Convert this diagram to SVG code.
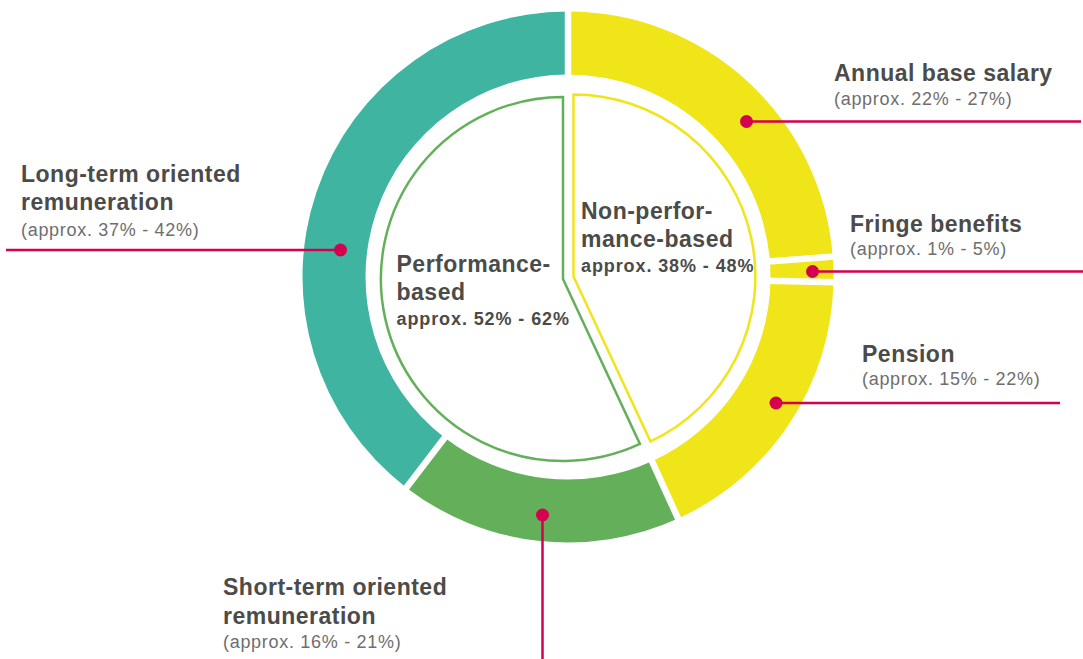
<svg xmlns="http://www.w3.org/2000/svg" width="1083" height="659" viewBox="0 0 1083 659">
<style>
.t{font-family:"Liberation Sans",Arial,sans-serif;font-weight:bold;font-size:23px;letter-spacing:0.5px;fill:#4b4b49}
.s{font-family:"Liberation Sans",Arial,sans-serif;font-size:18px;letter-spacing:0.7px;fill:#6e6e6e}
.p{font-family:"Liberation Sans",Arial,sans-serif;font-weight:bold;font-size:18px;letter-spacing:0.9px;fill:#4b4b49}
.gap{stroke:#fff;stroke-width:6.5}
.con{stroke:#d5004f;stroke-width:2.5;fill:none}
.dot{fill:#d5004f}
</style>
<rect width="1083" height="659" fill="#fff"/>
<g id="ring">
<g id="seg-annual"><path d="M568,11.5 A265.5,265.5 0 0 1 832.72,256.63 L769.90,261.46 A202.5,202.5 0 0 0 568,74.5 Z" fill="#efe518"/></g>
<g id="seg-fringe"><path d="M832.72,256.63 A265.5,265.5 0 0 1 833.45,282.10 L770.46,280.89 A202.5,202.5 0 0 0 769.90,261.46 Z" fill="#efe518"/></g>
<g id="seg-pension"><path d="M833.45,282.10 A265.5,265.5 0 0 1 678.10,518.59 L651.97,461.27 A202.5,202.5 0 0 0 770.46,280.89 Z" fill="#efe518"/></g>
<g id="seg-short"><path d="M678.10,518.59 A265.5,265.5 0 0 1 406.37,487.63 L444.73,437.65 A202.5,202.5 0 0 0 651.97,461.27 Z" fill="#64b05a"/></g>
<g id="seg-long"><path d="M406.37,487.63 A265.5,265.5 0 0 1 568,11.5 L568,74.5 A202.5,202.5 0 0 0 444.73,437.65 Z" fill="#3eb4a1"/></g>
<g id="ring-gaps">
<line class="gap" x1="568" y1="79" x2="568" y2="7"/>
<line class="gap" x1="765.42" y1="261.81" x2="837.20" y2="256.29"/>
<line class="gap" x1="765.96" y1="280.80" x2="837.95" y2="282.18"/>
<line class="gap" x1="650.11" y1="457.17" x2="679.97" y2="522.69"/>
<line class="gap" x1="447.47" y1="434.08" x2="403.63" y2="491.20"/>
</g>
</g>
<g id="pie-nonperf">
<path d="M573.5,94.5 A182,182 0 0 1 650.4,441.4 L573.5,276.5 Z" fill="none" stroke="#efe518" stroke-width="2.5" stroke-linejoin="miter"/>
<text class="t" x="581" y="218.5">Non-perfor-</text>
<text class="t" x="581" y="246.5">mance-based</text>
<text class="p" x="581" y="271.5">approx. 38% - 48%</text>
</g>
<g id="pie-perf">
<path d="M639.9,443.9 A182,182 0 1 1 563,97 L563,279 Z" fill="none" stroke="#64b05a" stroke-width="2.5" stroke-linejoin="miter"/>
<text class="t" x="396.5" y="271.5">Performance-</text>
<text class="t" x="396.5" y="300">based</text>
<text class="p" x="396.5" y="325">approx. 52% - 62%</text>
</g>
<g id="connectors">
<line class="con" x1="746.5" y1="121.5" x2="1081" y2="121.5"/>
<line class="con" x1="812.5" y1="271.5" x2="1083" y2="271.5"/>
<line class="con" x1="776" y1="403" x2="1060" y2="403"/>
<line class="con" x1="6" y1="250" x2="340.5" y2="250"/>
<line class="con" x1="542.5" y1="515" x2="542.5" y2="659"/>
<circle class="dot" cx="746.5" cy="121.5" r="6.5"/>
<circle class="dot" cx="812.5" cy="271.5" r="6.5"/>
<circle class="dot" cx="776" cy="403" r="6.5"/>
<circle class="dot" cx="340.5" cy="250" r="6.5"/>
<circle class="dot" cx="542.5" cy="515" r="6.5"/>
</g>
<g id="label-annual">
<text class="t" x="834" y="80.5">Annual base salary</text>
<text class="s" x="834" y="105">(approx. 22% - 27%)</text>
</g>
<g id="label-fringe">
<text class="t" x="850" y="231.5">Fringe benefits</text>
<text class="s" x="850" y="255">(approx. 1% - 5%)</text>
</g>
<g id="label-pension">
<text class="t" x="862" y="361.5">Pension</text>
<text class="s" x="862" y="385">(approx. 15% - 22%)</text>
</g>
<g id="label-long">
<text class="t" x="21" y="181.5">Long-term oriented</text>
<text class="t" x="21" y="210">remuneration</text>
<text class="s" x="21" y="235.5">(approx. 37% - 42%)</text>
</g>
<g id="label-short">
<text class="t" x="223" y="595">Short-term oriented</text>
<text class="t" x="223" y="623.5">remuneration</text>
<text class="s" x="223" y="648">(approx. 16% - 21%)</text>
</g>
</svg>
